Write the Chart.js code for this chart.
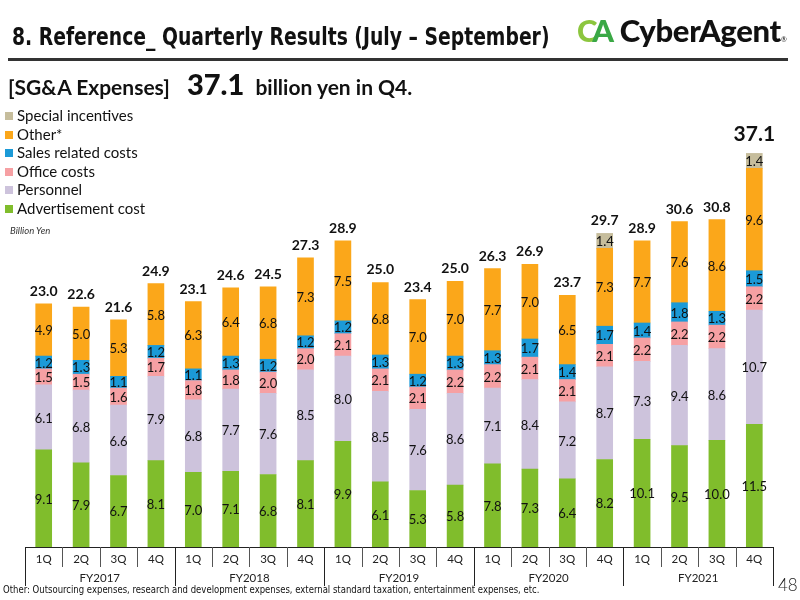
<!DOCTYPE html>
<html>
<head>
	<meta charset="UTF-8">
	<title>SG&amp;A Expenses</title>
	<script src="https://cdn.jsdelivr.net/npm/chart.js"></script>
	<style>
	body{margin:0; background:#fff;}
	#wrap{position:relative; width:800px; height:600px; overflow:hidden; font-family:Lato, sans-serif; color:#111;}
	#myChart{position:absolute; left:0; top:0;}
	.abs{position:absolute; white-space:nowrap;}
	.title{left:12px; top:22px; font-family:"DejaVu Sans Condensed",sans-serif; font-weight:bold; font-size:25px; transform:scaleX(0.835); transform-origin:0 0;}
	.rule{left:8px; top:58px; width:780px; height:3px; background:#333;}
	.logo{left:577px; top:11px; font-weight:900; font-size:31px; letter-spacing:-0.3px;}
	.sub{left:8px; top:66px; font-weight:bold; font-size:21px;}
	.sub b{font-size:29px; margin:0 6px 0 12px;}
	.legend{left:5px; top:106px; font-size:15px; line-height:18.6px;}
	.legend span{display:inline-block; width:8px; height:8px; margin-right:4px; vertical-align:1px;}
	.unit{left:10px; top:225px; font-size:9.5px; font-style:italic; color:#333;}
	.note{left:3px; top:583px; font-family:"DejaVu Sans Condensed",sans-serif; font-size:11px; transform:scaleX(0.86); transform-origin:0 0;}
	.page{left:778px; top:574px; font-size:17px; font-weight:300; color:#222;}
	</style>
</head>
<body>
<div id="wrap">
	<canvas id="myChart" width="800" height="600"></canvas>
	<div class="abs title">8. Reference_ Quarterly Results (July – September)</div>
	<div class="abs rule"></div>
	<div class="abs logo"><span style="color:#8cc63e">C</span><span style="color:#3aa845;margin-left:-5px">A</span> CyberAgent<span style="font-size:7px;font-weight:400">®</span></div>
	<div class="abs sub">[SG&amp;A Expenses] <b>37.1</b> billion yen in Q4.</div>
	<div class="abs legend" id="legend"></div>
	<div class="abs unit">Billion Yen</div>
	<div class="abs note">Other: Outsourcing expenses, research and development expenses, external standard taxation, entertainment expenses, etc.</div>
	<div class="abs page">48</div>
</div>
<script>
var quarters = ['1Q','2Q','3Q','4Q','1Q','2Q','3Q','4Q','1Q','2Q','3Q','4Q','1Q','2Q','3Q','4Q','1Q','2Q','3Q','4Q'];
var fiscalYears = ['FY2017','FY2018','FY2019','FY2020','FY2021'];

var advertisement = [9.1,7.9,6.7,8.1, 7.0,7.1,6.8,8.1, 9.9,6.1,5.3,5.8, 7.8,7.3,6.4,8.2, 10.1,9.5,10.0,11.5];
var personnel     = [6.1,6.8,6.6,7.9, 6.8,7.7,7.6,8.5, 8.0,8.5,7.6,8.6, 7.1,8.4,7.2,8.7, 7.3,9.4,8.6,10.7];
var office        = [1.5,1.5,1.6,1.7, 1.8,1.8,2.0,2.0, 2.1,2.1,2.1,2.2, 2.2,2.1,2.1,2.1, 2.2,2.2,2.2,2.2];
var salesRelated  = [1.2,1.3,1.1,1.2, 1.1,1.3,1.2,1.2, 1.2,1.3,1.2,1.3, 1.3,1.7,1.4,1.7, 1.4,1.8,1.3,1.5];
var other         = [4.9,5.0,5.3,5.8, 6.3,6.4,6.8,7.3, 7.5,6.8,7.0,7.0, 7.7,7.0,6.5,7.3, 7.7,7.6,8.6,9.6];
var special       = [null,null,null,null, null,null,null,null, null,null,null,null, null,null,null,1.4, null,null,null,1.4];
var totals        = [23.0,22.6,21.6,24.9, 23.1,24.6,24.5,27.3, 28.9,25.0,23.4,25.0, 26.3,26.9,23.7,29.7, 28.9,30.6,30.8,37.1];

var series = [
	{label:'Advertisement cost', data:advertisement, color:'#80bd2c'},
	{label:'Personnel', data:personnel, color:'#cdc3dc'},
	{label:'Office costs', data:office, color:'#f6a0a3'},
	{label:'Sales related costs', data:salesRelated, color:'#1b9ad7'},
	{label:'Other*', data:other, color:'#fba71a'},
	{label:'Special incentives', data:special, color:'#c6bd9c'}
];

// legend (top item = top of stack)
var lg = '';
for (var i = series.length - 1; i >= 0; i--) {
	lg += '<div><span style="background:' + series[i].color + '"></span>' + series[i].label + '</div>';
}
document.getElementById('legend').innerHTML = lg;

var labelPlugin = {
	id: 'labelPlugin',
	afterDatasetsDraw: function(chart) {
		var ctx = chart.ctx;
		ctx.save();
		ctx.textAlign = 'center';
		ctx.textBaseline = 'middle';
		ctx.fillStyle = '#111';
		ctx.font = '13px Lato';
		var tops = [];
		chart.data.datasets.forEach(function(ds, d) {
			var meta = chart.getDatasetMeta(d);
			meta.data.forEach(function(el, i) {
				var v = ds.data[i];
				if (v == null) return;
				ctx.fillText(v.toFixed(1), el.x, (el.y + el.base) / 2 + 1);
				if (tops[i] == null || el.y < tops[i]) tops[i] = el.y;
			});
		});
		ctx.textBaseline = 'alphabetic';
		totals.forEach(function(t, i) {
			var x = chart.getDatasetMeta(0).data[i].x;
			var last = i == totals.length - 1;
			ctx.font = last ? 'bold 21px Lato' : 'bold 14px Lato';
			ctx.fillText(t.toFixed(1), x, tops[i] - (last ? 12 : 8));
		});
		ctx.restore();
	}
};

var axisPlugin = {
	id: 'axisPlugin',
	afterDraw: function(chart) {
		var ctx = chart.ctx, a = chart.chartArea;
		var base = chart.scales.y.getPixelForValue(0);
		var step = (a.right - a.left) / quarters.length;
		ctx.save();
		ctx.lineWidth = 1;
		ctx.strokeStyle = '#222';
		ctx.beginPath();
		ctx.moveTo(a.left, base + 0.5);
		ctx.lineTo(a.right, base + 0.5);
		ctx.stroke();
		for (var k = 0; k <= quarters.length; k++) {
			var px = Math.round(a.left + k * step) + 0.5;
			ctx.beginPath();
			if (k % 4 == 0) {
				ctx.strokeStyle = '#222';
				ctx.moveTo(px, base);
				ctx.lineTo(px, base + 39);
			} else {
				ctx.strokeStyle = '#555';
				ctx.moveTo(px, base);
				ctx.lineTo(px, base + 20);
			}
			ctx.stroke();
		}
		ctx.fillStyle = '#222';
		ctx.textAlign = 'center';
		ctx.textBaseline = 'middle';
		ctx.font = '11.5px Lato';
		quarters.forEach(function(q, i) {
			ctx.fillText(q, chart.scales.x.getPixelForValue(i), base + 12);
		});
		fiscalYears.forEach(function(fy, j) {
			var xc = (chart.scales.x.getPixelForValue(j * 4) + chart.scales.x.getPixelForValue(j * 4 + 3)) / 2;
			ctx.fillText(fy, xc, base + 31);
		});
		ctx.restore();
	}
};

new Chart(document.getElementById('myChart'), {
	type: 'bar',
	data: {
		labels: quarters,
		datasets: series.map(function(s) {
			return {label: s.label, data: s.data, backgroundColor: s.color, borderWidth: 0, barThickness: 16};
		})
	},
	options: {
		responsive: false,
		animation: false,
		layout: {padding: {left: 25, right: 27, top: 67, bottom: 53}},
		plugins: {legend: {display: false}, tooltip: {enabled: false}},
		scales: {
			x: {stacked: true, display: false},
			y: {stacked: true, display: false, min: 0, max: 45}
		}
	},
	plugins: [labelPlugin, axisPlugin]
});
</script>
</body>
</html>
